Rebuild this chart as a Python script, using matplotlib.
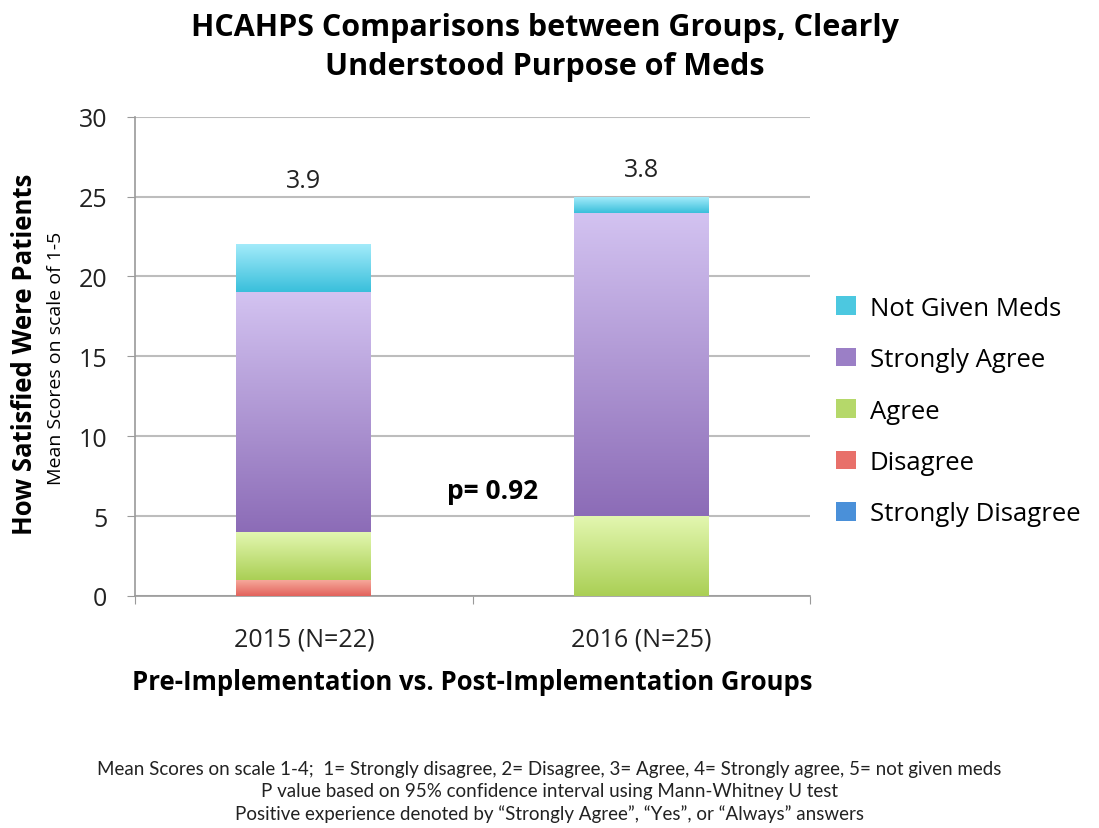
import numpy as np
import matplotlib
matplotlib.use("Agg")
import matplotlib.pyplot as plt
from matplotlib.colors import LinearSegmentedColormap
from matplotlib.patches import Patch

categories = ["2015 (N=22)", "2016 (N=25)"]
series_names = ["Strongly Disagree", "Disagree", "Agree", "Strongly Agree", "Not Given Meds"]
strongly_disagree = [0, 0]
disagree = [1, 0]
agree = [3, 5]
strongly_agree = [15, 19]
not_given = [3, 1]
mean_scores = ["3.9", "3.8"]
p_value_text = "p= 0.92"
footnotes = ["Mean Scores on scale 1-4;  1= Strongly disagree, 2= Disagree, 3= Agree, 4= Strongly agree, 5= not given meds",
             "P value based on 95% confidence interval using Mann-Whitney U test",
             "Positive experience denoted by \u201cStrongly Agree\u201d, \u201cYes\u201d, or \u201cAlways\u201d answers"]

series_values = [strongly_disagree, disagree, agree, strongly_agree, not_given]
# (top colour, bottom colour) gradient for each series
grad_colors = [("#7fb3ea", "#3f86d6"),
               ("#f6a89a", "#e2625c"),
               ("#e3f7b0", "#aacf55"),
               ("#d3c3f1", "#8c6cb7"),
               ("#a3ebfa", "#39bfdb")]
legend_colors = ["#4a90d9", "#e8706a", "#b5d86a", "#9b7fc6", "#4cc8e0"]

plt.rcParams['font.family'] = ['Open Sans', 'DejaVu Sans']
fig = plt.figure(figsize=(10.99, 8.29), dpi=100)
ax = fig.add_axes([0.123, 0.280, 0.614, 0.578])

x = np.arange(len(categories))
bottom = np.zeros(len(categories))
for vals, (ctop, cbot) in zip(series_values, grad_colors):
    bars = ax.bar(x, vals, width=0.4, bottom=bottom, color=cbot, edgecolor='none', zorder=2)
    cmap = LinearSegmentedColormap.from_list("g", [cbot, ctop])
    grad = np.linspace(0, 1, 256).reshape(-1, 1)
    for b in bars:
        if b.get_height() <= 0:
            continue
        x0, y0 = b.get_x(), b.get_y()
        im = ax.imshow(grad, cmap=cmap, origin='lower', aspect='auto',
                       extent=[x0, x0 + b.get_width(), y0, y0 + b.get_height()],
                       zorder=3, interpolation='bilinear')
        im.set_clip_path(b)
    bottom += np.array(vals)

ax.set_xlim(-0.5, 1.5)
ax.set_ylim(0, 30)
ax.set_yticks(range(0, 31, 5))
ax.yaxis.grid(True, color='#bdbdbd', linewidth=1.5, zorder=0)
ax.set_axisbelow(True)
for s in ['top', 'right']:
    ax.spines[s].set_visible(False)
for s in ['left', 'bottom']:
    ax.spines[s].set_color('#9a9a9a')
    ax.spines[s].set_linewidth(1.2)
ax.tick_params(axis='y', length=6, color='#9a9a9a', labelsize=18, pad=14, labelcolor='#222222')
ax.set_xticks([-0.5, 0.5, 1.5])
ax.set_xticklabels([])
ax.tick_params(axis='x', length=6, color='#9a9a9a')
ax.set_xticks(x, minor=True)
ax.set_xticklabels(categories, minor=True)
ax.tick_params(axis='x', which='minor', length=0, labelsize=18, pad=22, labelcolor='#222222')

# mean-score labels above bars
label_y = [26.0, 26.7]
for xi, lbl, ly in zip(x, mean_scores, label_y):
    ax.text(xi, ly, lbl, ha='center', va='center', fontsize=18, color='#222222')
ax.text(0.56, 6.6, p_value_text, ha='center', va='center', fontsize=19, fontweight='bold')

ax.set_xlabel("Pre-Implementation vs. Post-Implementation Groups", fontsize=18.5,
              fontweight='bold', labelpad=12)

fig.text(0.022, 0.572, "How Satisfied Were Patients", rotation=90, ha='center', va='center',
         fontsize=18.5, fontweight='bold')
fig.text(0.051, 0.568, "Mean Scores on scale of 1-5", rotation=90, ha='center', va='center',
         fontsize=14)

fig.text(0.496, 0.943, "HCAHPS Comparisons between Groups, Clearly\nUnderstood Purpose of Meds",
         ha='center', va='center', fontsize=22, fontweight='bold', linespacing=1.4)

handles = [Patch(facecolor=c, edgecolor='none') for c in legend_colors]
leg = fig.legend(handles[::-1], series_names[::-1], loc='center left',
                 bbox_to_anchor=(0.740, 0.503), frameon=False, fontsize=18.5,
                 handlelength=0.75, handleheight=0.75, labelspacing=1.03, handletextpad=0.55)

for i, line in enumerate(footnotes):
    fig.text(0.5, 1 - (770 + 22 * i) / 829, line, ha='center', va='center', fontsize=13.5,
             family=['Lato', 'DejaVu Sans'], color='#222222')

fig.savefig("out.png", dpi=100)
